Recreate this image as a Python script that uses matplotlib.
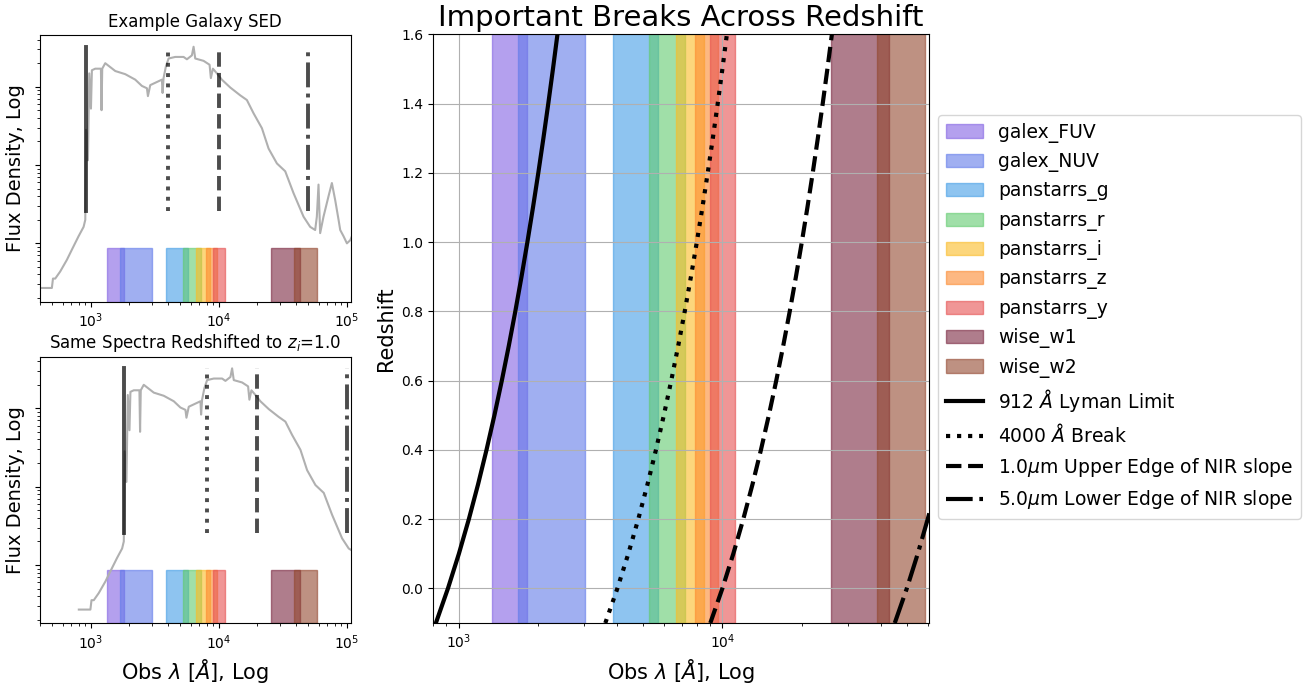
import matplotlib
matplotlib.use("Agg")
import matplotlib.pyplot as plt
from matplotlib.ticker import NullFormatter
import numpy as np

# filter bands (observed wavelength range, Angstrom)
band_names = ['galex_FUV', 'galex_NUV', 'panstarrs_g', 'panstarrs_r', 'panstarrs_i',
              'panstarrs_z', 'panstarrs_y', 'wise_w1', 'wise_w2']
band_lo = [1340, 1680, 3860, 5270, 6650, 7880, 8980, 25700, 38700]
band_hi = [1810, 3010, 5720, 7220, 8540, 9650, 11160, 42800, 58700]
band_colors = ['#8261e3', '#617be9', '#439de6', '#61cb6e', '#fabb25',
               '#fc8a2f', '#e65050', '#7a263f', '#93482f']

# important breaks (rest frame, Angstrom)
break_lam = [912, 4000, 10000, 50000]
break_labels = [r'912 $\AA$ Lyman Limit', r'4000 $\AA$ Break',
                r'1.0$\mu$m Upper Edge of NIR slope', r'5.0$\mu$m Lower Edge of NIR slope']
break_styles = ['-', ':', '--', '-.']

# redshift grid for the main panel
z_vals = [-0.1, 0.0, 0.1, 0.2, 0.3, 0.4, 0.5, 0.6, 0.7, 0.8, 0.9,
          1.0, 1.1, 1.2, 1.3, 1.4, 1.5, 1.6]
z_demo = 1.0

# example SED, rest frame (Angstrom, log10 flux in arbitrary units)
sed_lam = [402, 495, 505, 526, 575, 649, 710, 800, 876, 903, 915, 947, 970, 1000,
           1017, 1080, 1147, 1196, 1210, 1225, 1293, 1549, 1853, 2219, 2500, 2737,
           2787, 2906, 3276, 3585, 3628, 3693, 3852, 4042, 4556, 5293, 5620, 6148,
           6337, 6530, 7586, 8450, 8650, 8970, 9640, 10540, 12250, 14660, 16530,
           18650, 21670, 24430, 28380, 32960, 38290, 45830, 51650, 56490, 58210,
           59980, 61800, 65620, 71790, 76300, 81030, 86050, 88650, 94130, 100000,
           106200, 112000]
sed_logf = [0.43, 0.43, 0.55, 0.55, 0.64, 0.79, 0.92, 1.09, 1.21, 1.30, 2.45, 2.06,
            3.17, 2.72, 3.21, 3.23, 3.23, 3.23, 2.70, 3.23, 3.30, 3.20, 3.16, 3.09,
            3.01, 2.98, 2.88, 3.02, 3.06, 3.09, 2.92, 3.11, 3.26, 3.36, 3.38, 3.38,
            3.35, 3.40, 3.51, 3.36, 3.33, 3.28, 3.11, 3.23, 3.17, 3.09, 2.99, 2.89,
            2.83, 2.66, 2.47, 2.21, 2.02, 1.92, 1.64, 1.34, 1.21, 1.17, 1.34, 1.75,
            1.13, 1.34, 1.60, 1.77, 1.55, 1.30, 1.17, 1.09, 1.00, 1.04, 1.13]

fig = plt.figure(figsize=(13.08, 6.85), dpi=100)
ax_top = fig.add_axes([0.0306, 0.5596, 0.2375, 0.3893])
ax_bot = fig.add_axes([0.0306, 0.0901, 0.2375, 0.3893])
ax = fig.add_axes([0.331, 0.0905, 0.379, 0.8595])

sed_lam = np.array(sed_lam)
sed_flux = 10 ** np.array(sed_logf)

# left panels: rest-frame and redshifted SED
for a, zz, title in [(ax_top, 0.0, 'Example Galaxy SED'),
                     (ax_bot, z_demo, 'Same Spectra Redshifted to $z_i$=%.1f' % z_demo)]:
    a.plot(sed_lam * (1 + zz), sed_flux, color='#b0b0b0', lw=1.5)
    for lo, hi, c in zip(band_lo, band_hi, band_colors):
        a.axvspan(lo, hi, ymin=0, ymax=0.2, color=c, alpha=0.6)
    for lam, ls in zip(break_lam, break_styles):
        a.axvline(lam * (1 + zz), ymin=0.34, ymax=0.956, color='k', alpha=0.7,
                  ls=ls, lw=2.8)
    a.set_xscale('log')
    a.set_yscale('log')
    a.set_xlim(400, 1.07e5)
    a.set_ylim(10 ** 0.255, 10 ** 3.66)
    a.yaxis.set_major_formatter(NullFormatter())
    a.yaxis.set_minor_formatter(NullFormatter())
    a.set_ylabel('Flux Density, Log', fontsize=14)
    a.set_title(title, fontsize=12)
ax_bot.set_xlabel(r'Obs $\lambda$ [$\AA$], Log', fontsize=15)

# main panel
for name, lo, hi, c in zip(band_names, band_lo, band_hi, band_colors):
    ax.axvspan(lo, hi, color=c, alpha=0.6, label=name)
z_arr = np.array(z_vals)
for lam, ls, lab in zip(break_lam, break_styles, break_labels):
    ax.plot(lam * (1 + z_arr), z_arr, color='k', ls=ls, lw=3, label=lab)
ax.set_xscale('log')
ax.set_xlim(800, 60500)
ax.set_ylim(-0.1, 1.6)
ax.set_yticks([0.0, 0.2, 0.4, 0.6, 0.8, 1.0, 1.2, 1.4, 1.6])
ax.grid(True)
ax.set_title('Important Breaks Across Redshift', fontsize=21)
ax.set_xlabel(r'Obs $\lambda$ [$\AA$], Log', fontsize=15)
ax.set_ylabel('Redshift', fontsize=15)
ax.legend(loc='center left', bbox_to_anchor=(1.0, 0.52), fontsize=13.5)

fig.savefig('out.png', dpi=100)
